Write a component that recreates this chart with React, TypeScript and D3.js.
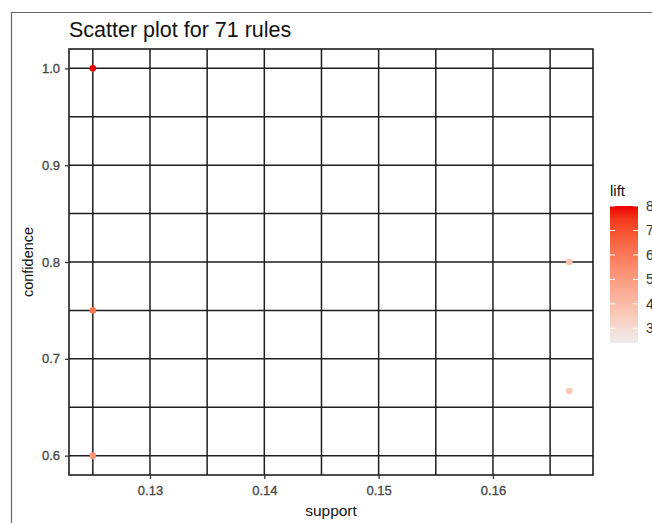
import { useEffect, useRef } from 'react';
import * as d3 from 'd3';

// rules (support, confidence, lift)
const support = [0.125, 0.125, 0.125, 0.16667, 0.16667];
const confidence = [1.0, 0.75, 0.6, 0.8, 0.6667];
const lift = [8.0, 6.1, 5.2, 3.8, 3.6];

const xTicks = [0.13, 0.14, 0.15, 0.16];
const xMinor = [0.125, 0.135, 0.145, 0.155, 0.165];
const yTicks = [0.6, 0.7, 0.8, 0.9, 1.0];
const yMinor = [0.65, 0.75, 0.85, 0.95];
const liftTicks = [3, 4, 5, 6, 7, 8];
const liftRange = [2.4, 8.0];

const W = 652;
const H = 523;

const App = () => {
  const svgRef = useRef<SVGSVGElement>(null);

  useEffect(() => {
    const svg = d3.select(svgRef.current);
    svg.selectAll('*').remove();

    const font = 'Liberation Sans, Arial, sans-serif';
    const panel = { left: 69, right: 593, top: 49, bottom: 475 };

    // outer frame
    svg.append('line').attr('x1', 11).attr('x2', W).attr('y1', 12.5).attr('y2', 12.5)
      .attr('stroke', '#666').attr('stroke-width', 1.2);
    svg.append('line').attr('x1', 11.5).attr('x2', 11.5).attr('y1', 12).attr('y2', H)
      .attr('stroke', '#666').attr('stroke-width', 1.2);

    const x = d3.scaleLinear().domain([0.122917, 0.16875]).range([panel.left, panel.right]);
    const y = d3.scaleLinear().domain([0.58, 1.02]).range([panel.bottom, panel.top]);
    const color = d3.scaleLinear<string>().domain(liftRange)
      .range(['#EEEEEE', '#EE0000']).interpolate(d3.interpolateLab);

    const g = svg.append('g');
    const gridColor = '#1e1e1e';

    // grid lines
    g.selectAll('.vx').data([...xMinor, ...xTicks]).enter().append('line')
      .attr('x1', (d) => x(d)).attr('x2', (d) => x(d))
      .attr('y1', panel.top).attr('y2', panel.bottom)
      .attr('stroke', gridColor).attr('stroke-width', 1.5);
    g.selectAll('.hy').data([...yMinor, ...yTicks]).enter().append('line')
      .attr('x1', panel.left).attr('x2', panel.right)
      .attr('y1', (d) => y(d)).attr('y2', (d) => y(d))
      .attr('stroke', gridColor).attr('stroke-width', 1.5);

    g.append('rect')
      .attr('x', panel.left).attr('y', panel.top)
      .attr('width', panel.right - panel.left).attr('height', panel.bottom - panel.top)
      .attr('fill', 'none').attr('stroke', gridColor).attr('stroke-width', 1.6);

    // axes
    const xAxis = svg.append('g')
      .attr('transform', `translate(0,${panel.bottom})`)
      .call(d3.axisBottom(x).tickValues(xTicks).tickSize(4).tickPadding(7).tickFormat(d3.format('.2f')));
    const yAxis = svg.append('g')
      .attr('transform', `translate(${panel.left},0)`)
      .call(d3.axisLeft(y).tickValues(yTicks).tickSize(4).tickPadding(5).tickFormat(d3.format('.1f')));
    [xAxis, yAxis].forEach((a) => {
      a.select('.domain').remove();
      a.selectAll('line').attr('stroke', '#333').attr('stroke-width', 1.3);
      a.selectAll('text').attr('fill', '#444').attr('font-size', 13).attr('font-family', font)
        .attr('stroke', '#444').attr('stroke-width', 0.3);
    });

    // points
    const rows = support.map((s, i) => ({ s, c: confidence[i], l: lift[i] }));
    g.selectAll('.pt').data(rows.sort((a, b) => a.l - b.l)).enter().append('circle')
      .attr('cx', (d) => x(d.s)).attr('cy', (d) => y(d.c)).attr('r', 3.3)
      .attr('fill', (d) => color(d.l));

    // titles
    svg.append('text').attr('x', 69).attr('y', 37).text('Scatter plot for 71 rules')
      .attr('font-size', 21.5).attr('font-family', font).attr('fill', '#111');
    svg.append('text').attr('x', (panel.left + panel.right) / 2).attr('y', 516)
      .attr('text-anchor', 'middle').text('support')
      .attr('font-size', 15.5).attr('font-family', font).attr('fill', '#111');
    svg.append('text')
      .attr('transform', `translate(33,${(panel.top + panel.bottom) / 2}) rotate(-90)`)
      .attr('text-anchor', 'middle').text('confidence')
      .attr('font-size', 14.5).attr('font-family', font).attr('fill', '#111');

    // legend colorbar (labels run off the right edge, as in the source)
    const lg = { x: 610, w: 28, top: 206, bottom: 343 };
    const ly = d3.scaleLinear().domain(liftRange).range([lg.bottom, lg.top]);
    const defs = svg.append('defs');
    const grad = defs.append('linearGradient').attr('id', 'liftGrad')
      .attr('x1', 0).attr('x2', 0).attr('y1', 1).attr('y2', 0);
    d3.range(0, 1.0001, 0.1).forEach((t) => {
      grad.append('stop').attr('offset', t)
        .attr('stop-color', color(liftRange[0] + t * (liftRange[1] - liftRange[0])));
    });
    svg.append('rect').attr('x', lg.x).attr('y', lg.top)
      .attr('width', lg.w).attr('height', lg.bottom - lg.top).attr('fill', 'url(#liftGrad)');
    liftTicks.forEach((t) => {
      const yy = ly(t);
      svg.append('line').attr('x1', lg.x).attr('x2', lg.x + 5).attr('y1', yy).attr('y2', yy)
        .attr('stroke', '#fff').attr('stroke-width', 1);
      svg.append('line').attr('x1', lg.x + lg.w - 5).attr('x2', lg.x + lg.w).attr('y1', yy).attr('y2', yy)
        .attr('stroke', '#fff').attr('stroke-width', 1);
      svg.append('text').attr('x', lg.x + lg.w + 8).attr('y', yy).attr('dy', '0.35em')
        .text(t).attr('font-size', 14).attr('font-family', font).attr('fill', '#333');
    });
    svg.append('text').attr('x', lg.x).attr('y', 196).text('lift')
      .attr('font-size', 15).attr('font-family', font).attr('fill', '#111');
  }, []);

  return (
    <svg
      ref={svgRef}
      width={W}
      height={H}
      style={{ position: 'absolute', left: 0, top: 0, background: '#fff' }}
    />
  );
};

export default App;
